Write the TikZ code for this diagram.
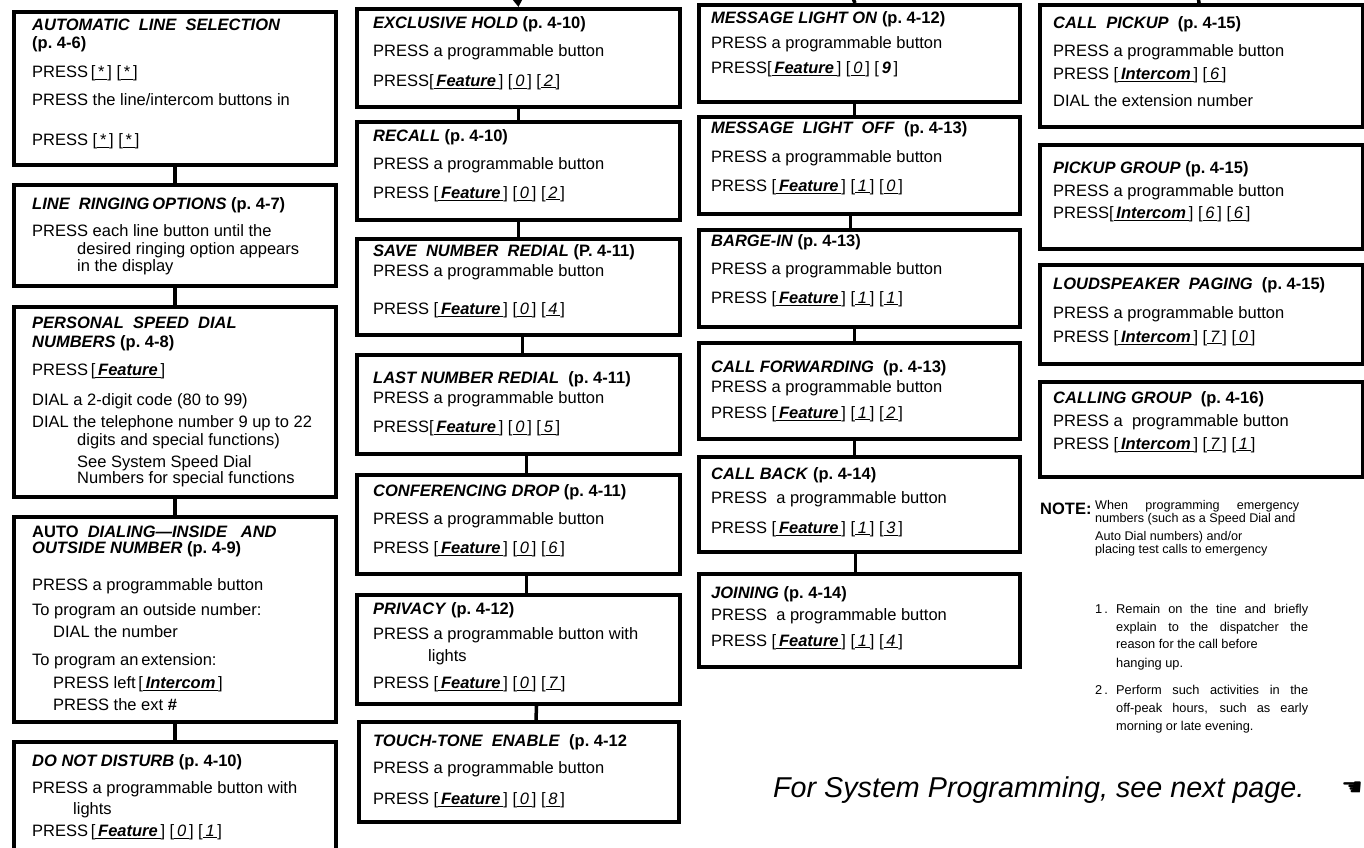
\documentclass[tikz,border=0pt]{standalone}
\usepackage{fontspec}
\setmainfont{Liberation Sans}
\newfontfamily\phsym{DejaVu Sans}
\usetikzlibrary{arrows.meta}
\definecolor{phInk}{HTML}{000000}
\newcommand{\phname}[1]{\textbf{\textit{#1}}}
\newcommand{\phpage}[1]{\textbf{(p.~#1)}}
\newcommand{\phkey}[1]{[\underline{\,#1\,}]}
\newcommand{\phdig}[1]{\phkey{\textit{#1}}}
\newcommand{\phfeat}{\phkey{\textbf{\textit{Feature}}}}
\newcommand{\phicom}{\phkey{\textbf{\textit{Intercom}}}}
\tikzset{
  ph box/.style={draw=phInk, line width=4pt, anchor=north west, inner sep=0pt},
  ph link/.style={draw=phInk, line width=3.5pt},
  ph text/.style={anchor=north west, align=left, inner sep=0pt, text=phInk, font=\fontsize{16.5}{19}\selectfont},
  ph note/.style={anchor=north west, align=left, inner sep=0pt, text=phInk, font=\fontsize{12.8}{18}\selectfont},
}
\begin{document}
\begin{tikzpicture}[x=1pt,y=-1pt]
\fill[white](0,0)rectangle(1364,847);
\useasboundingbox(0,0)rectangle(1364,847);
% column 1
\node[ph box,minimum width=322pt,minimum height=153pt](als)at(12,10){};
\node[ph text](alsT)at([shift={(20,9)}]als.north west){\phname{AUTOMATIC\ \ LINE\ \ SELECTION}\\[-1pt]\phpage{4-6}\\[10pt]PRESS\,\phkey{*}\ \phkey{*}\\[9pt]PRESS the line/intercom buttons in\\[21pt]PRESS \phkey{*}\ \phkey{*}};
\node[ph box,minimum width=322pt,minimum height=101pt](lro)at(12,183){};
\node[ph text](lroT)at([shift={(20,14)}]lro.north west){\phname{LINE\ \ RINGING}\,\phname{OPTIONS} \phpage{4-7}\\[8pt]PRESS each line button until the\\[-1pt]\hspace*{45pt}desired ringing option appears\\[-2pt]\hspace*{45pt}in the display};
\node[ph box,minimum width=322pt,minimum height=190pt](psd)at(12,305){};
\node[ph text](psdT)at([shift={(20,12)}]psd.north west){\phname{PERSONAL\ \ SPEED\ \ DIAL}\\[0pt]\phname{NUMBERS} \phpage{4-8}\\[9pt]PRESS\,\phfeat\\[11pt]DIAL a 2-digit code (80 to 99)\\[3pt]DIAL the telephone number 9 up to 22\\[-1pt]\hspace*{45pt}digits and special functions)\\[3pt]\hspace*{45pt}See System Speed Dial\\[-3pt]\hspace*{45pt}Numbers for special functions};
\node[ph box,minimum width=322pt,minimum height=205pt](auto)at(12,515){};
\node[ph text](autoT)at([shift={(20,11)}]auto.north west){\textbf{AUTO}\ \ \phname{DIALING---INSIDE\ \ \ AND}\\[-3pt]\phname{OUTSIDE NUMBER} \phpage{4-9}\\[18pt]PRESS a programmable button\\[6pt]To program an outside number:\\[3pt]\hspace*{21pt}DIAL the number\\[9pt]To program an\,extension:\\[4pt]\hspace*{21pt}PRESS left\,\phicom\\[3pt]\hspace*{21pt}PRESS the ext \textbf{\#}};
\node[ph box,minimum width=322pt,minimum height=112pt](dnd)at(12,740){};
\node[ph text](dndT)at([shift={(20,14)}]dnd.north west){\phname{DO NOT DISTURB} \phpage{4-10}\\[8pt]PRESS a programmable button with\\[2pt]\hspace*{41pt}lights\\[3pt]PRESS\,\phfeat\ \phdig{0}\ \phdig{1}};
\draw[ph link](als.south)--(lro.north);
\draw[ph link](lro.south)--(psd.north);
\draw[ph link](psd.south)--(auto.north);
\draw[ph link](auto.south)--(dnd.north);
% column 2
\coordinate(inA)at(516.5,-12);
\node[ph box,minimum width=323pt,minimum height=98pt](ehold)at(355,7){};
\node[ph text](eholdT)at([shift={(18,9)}]ehold.north west){\phname{EXCLUSIVE HOLD} \phpage{4-10}\\[9pt]PRESS a programmable button\\[11pt]PRESS\phfeat\ \phdig{0}\ \phdig{2}};
\node[ph box,minimum width=323pt,minimum height=98pt](recall)at(355,120){};
\node[ph text](recallT)at([shift={(18,9)}]recall.north west){\phname{RECALL} \phpage{4-10}\\[9pt]PRESS a programmable button\\[10pt]PRESS \phfeat\ \phdig{0}\ \phdig{2}};
\node[ph box,minimum width=323pt,minimum height=96pt](save)at(355,237){};
\node[ph text](saveT)at([shift={(18,7)}]save.north west){\phname{SAVE\ \ NUMBER\ \ REDIAL} \textbf{(P.~4-11)}\\[1pt]PRESS a programmable button\\[19pt]PRESS \phfeat\ \phdig{0}\ \phdig{4}};
\node[ph box,minimum width=323pt,minimum height=99pt](last)at(355,353){};
\node[ph text](lastT)at([shift={(18,18)}]last.north west){\phname{LAST NUMBER REDIAL}\ \ \phpage{4-11}\\[1pt]PRESS a programmable button\\[10pt]PRESS\phfeat\ \phdig{0}\ \phdig{5}};
\node[ph box,minimum width=323pt,minimum height=99pt](conf)at(355,473){};
\node[ph text](confT)at([shift={(18,11)}]conf.north west){\phname{CONFERENCING DROP} \phpage{4-11}\\[9pt]PRESS a programmable button\\[10pt]PRESS \phfeat\ \phdig{0}\ \phdig{6}};
\node[ph box,minimum width=323pt,minimum height=109pt](priv)at(355,593){};
\node[ph text](privT)at([shift={(18,9)}]priv.north west){\phname{PRIVACY} \phpage{4-12}\\[6pt]PRESS a programmable button with\\[3pt]\hspace*{55pt}lights\\[8pt]PRESS \phfeat\ \phdig{0}\ \phdig{7}};
\node[ph box,minimum width=320pt,minimum height=100pt](touch)at(357,720){};
\node[ph text](touchT)at([shift={(16,14)}]touch.north west){\phname{TOUCH-TONE\ \ ENABLE}\ \ \textbf{(p.~4-12}\\[8pt]PRESS a programmable button\\[12pt]PRESS \phfeat\ \phdig{0}\ \phdig{8}};
\draw[ph link,-{Triangle[width=11pt,length=9pt]}](inA)--(ehold.north);
\draw[ph link](ehold.south)--(recall.north);
\draw[ph link](recall.south)--(save.north);
\draw[ph link]([xshift=4pt]save.south)--([xshift=4pt]last.north);
\draw[ph link]([xshift=8pt]last.south)--([xshift=8pt]conf.north);
\draw[ph link]([xshift=8pt]conf.south)--([xshift=8pt]priv.north);
\draw[ph link]([xshift=18pt]priv.south)--([xshift=17pt]touch.north);
% column 3
\coordinate(inB)at(853,-12);
\node[ph box,minimum width=321pt,minimum height=97pt](mon)at(697,3){};
\node[ph text](monT)at([shift={(14,8)}]mon.north west){\phname{MESSAGE LIGHT ON} \phpage{4-12}\\[6pt]PRESS a programmable button\\[6pt]PRESS\phfeat\ \phdig{0}\ [\,\textbf{\textit{9}}\,]};
\node[ph box,minimum width=321pt,minimum height=97pt](moff)at(697,115){};
\node[ph text](moffT)at([shift={(14,6)}]moff.north west){\phname{MESSAGE\ \ LIGHT\ \ OFF}\ \ \phpage{4-13}\\[10pt]PRESS a programmable button\\[10pt]PRESS \phfeat\ \phdig{1}\ \phdig{0}};
\node[ph box,minimum width=321pt,minimum height=97pt](barge)at(697,228){};
\node[ph text](bargeT)at([shift={(14,6)}]barge.north west){\phname{BARGE-IN} \phpage{4-13}\\[9pt]PRESS a programmable button\\[10pt]PRESS \phfeat\ \phdig{1}\ \phdig{1}};
\node[ph box,minimum width=321pt,minimum height=96pt](cfwd)at(697,341){};
\node[ph text](cfwdT)at([shift={(14,19)}]cfwd.north west){\phname{CALL FORWARDING}\ \ \phpage{4-13}\\[1pt]PRESS a programmable button\\[7pt]PRESS \phfeat\ \phdig{1}\ \phdig{2}};
\node[ph box,minimum width=321pt,minimum height=95pt](cback)at(697,455){};
\node[ph text](cbackT)at([shift={(14,12)}]cback.north west){\phname{CALL BACK} \phpage{4-14}\\[5pt]PRESS\ \ a programmable button\\[11pt]PRESS \phfeat\ \phdig{1}\ \phdig{3}};
\node[ph box,minimum width=321pt,minimum height=93pt](join)at(697,572){};
\node[ph text](joinT)at([shift={(14,14)}]join.north west){\phname{JOINING} \phpage{4-14}\\[3pt]PRESS\ \ a programmable button\\[7pt]PRESS \phfeat\ \phdig{1}\ \phdig{4}};
\draw[ph link]([xshift=-4.5pt]inB)--([xshift=-4.5pt]mon.north);
\draw[ph link]([xshift=-5pt]mon.south)--([xshift=-5pt]moff.north);
\draw[ph link]([xshift=-9pt]moff.south)--([xshift=-9pt]barge.north);
\draw[ph link]([xshift=-5pt]barge.south)--([xshift=-5pt]cfwd.north);
\draw[ph link]([xshift=-5pt]cfwd.south)--([xshift=-5pt]cback.north);
\draw[ph link]([xshift=-4pt]cback.south)--([xshift=-4pt]join.north);
% column 4
\coordinate(inC)at(1197,-12);
\node[ph box,minimum width=323pt,minimum height=122pt](cpu)at(1038,3){};
\node[ph text](cpuT)at([shift={(15,13)}]cpu.north west){\phname{CALL\ \ PICKUP}\ \ \phpage{4-15}\\[9pt]PRESS a programmable button\\[4pt]PRESS \phicom\ \phdig{6}\\[8pt]DIAL the extension number};
\node[ph box,minimum width=323pt,minimum height=104pt](pgrp)at(1038,143){};
\node[ph text](pgrpT)at([shift={(15,18)}]pgrp.north west){\phname{PICKUP GROUP} \phpage{4-15}\\[4pt]PRESS a programmable button\\[3pt]PRESS\phicom\ \phdig{6}\ \phdig{6}};
\node[ph box,minimum width=323pt,minimum height=99pt](loud)at(1038,263){};
\node[ph text](loudT)at([shift={(15,14)}]loud.north west){\phname{LOUDSPEAKER\ \ PAGING}\ \ \phpage{4-15}\\[10pt]PRESS a programmable button\\[5pt]PRESS \phicom\ \phdig{7}\ \phdig{0}};
\node[ph box,minimum width=323pt,minimum height=95pt](cgrp)at(1038,380){};
\node[ph text](cgrpT)at([shift={(15,11)}]cgrp.north west){\phname{CALLING GROUP}\ \ \phpage{4-16}\\[4pt]PRESS a\ \ programmable button\\[4pt]PRESS \phicom\ \phdig{7}\ \phdig{1}};
\draw[ph link](inC)--([xshift=-2.5pt]cpu.north);
% note
\node[anchor=west,inner sep=0pt,text=phInk,font=\fontsize{16.5}{19}\selectfont\bfseries](noteL)at(1040,509){NOTE:};
\node[ph note,font=\fontsize{12.6}{13}\selectfont](noteT)at(1095,500){\makebox[204pt][s]{When programming emergency}\\numbers (such as a Speed Dial and\\[5pt]Auto Dial numbers) and/or\\placing test calls to emergency};
\node[ph note](listT)at(1095,604){\makebox[21pt][l]{1\,.}\makebox[192pt][s]{Remain on the tine and briefly}\\\hspace*{21pt}\makebox[192pt][s]{explain to the dispatcher the}\\[-1pt]\hspace*{21pt}reason for the call before\\[1pt]\hspace*{21pt}hanging up.\\[9pt]\makebox[21pt][l]{2\,.}\makebox[192pt][s]{Perform such activities in the}\\\hspace*{21pt}\makebox[192pt][s]{off-peak hours, such as early}\\\hspace*{21pt}morning or late evening.};
\node[anchor=west,inner sep=0pt,text=phInk,font=\fontsize{28.7}{31}\selectfont\itshape](nextP)at(773,790){For System Programming, see next page.};
\node[inner sep=0pt,text=phInk,font=\phsym\fontsize{24}{24}\selectfont](hand)at(1352,789){☚};
\end{tikzpicture}
\end{document}
